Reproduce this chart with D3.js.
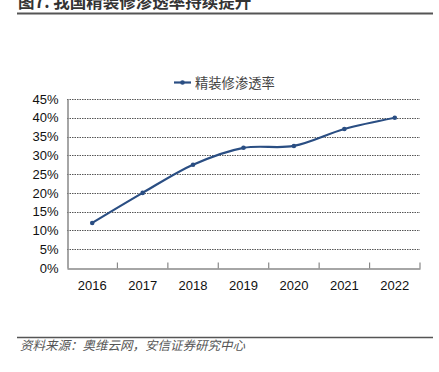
<!DOCTYPE html>
<html><head><meta charset="utf-8">
<script src="https://cdn.jsdelivr.net/npm/d3@7"></script>
<style>body{margin:0;background:#fff;}svg{display:block;}</style>
</head><body>
<script>
const years = ["2016","2017","2018","2019","2020","2021","2022"];
const rates = [12, 20, 27.5, 32, 32.5, 37, 40];
const yTicks = [0,5,10,15,20,25,30,35,40,45];
const seriesName = "精装修渗透率";
const titleText = "图7. 我国精装修渗透率持续提升";
const sourceText = "资料来源：奥维云网，安信证券研究中心";

const W = 439, H = 372;
const svg = d3.select("body").append("svg").attr("width", W).attr("height", H);
const font = "'Liberation Sans', Arial, sans-serif";
const cjk = "'Noto Sans CJK SC', sans-serif";

// title
svg.append("text").attr("x", 18).attr("y", 8).attr("font-family", cjk)
  .attr("font-size", 16.5).attr("font-weight", "bold").attr("fill", "#333").text(titleText);
svg.append("line").attr("x1", 17).attr("x2", 433).attr("y1", 13.5).attr("y2", 13.5)
  .attr("stroke", "#555").attr("stroke-width", 2);

const x = d3.scaleBand().domain(years).range([67, 420]);
const y = d3.scaleLinear().domain([0, 45]).range([268, 99]);

// gridlines
svg.append("g").selectAll("line").data(yTicks.filter(d => d > 0)).join("line")
  .attr("x1", 67).attr("x2", 420).attr("y1", d => Math.round(y(d)) + 0.5).attr("y2", d => Math.round(y(d)) + 0.5)
  .attr("stroke", "#555").attr("stroke-width", 1).attr("stroke-dasharray", "1.5,1");

// y axis
const yAxis = svg.append("g").attr("transform", "translate(67.5,0)")
  .call(d3.axisLeft(y).tickValues(yTicks).tickFormat(d => d + "%").tickSize(0).tickPadding(9));
yAxis.select(".domain").attr("stroke", "#888").attr("stroke-width", 1.5);
yAxis.selectAll("text").attr("font-family", font).attr("font-size", 13).attr("fill", "#111");

// x axis
const xAxis = svg.append("g").attr("transform", "translate(0,268.5)")
  .call(d3.axisBottom(x).tickSize(0).tickPadding(12));
xAxis.select(".domain").attr("stroke", "#888").attr("stroke-width", 1.5);
xAxis.selectAll("text").attr("font-family", font).attr("font-size", 13).attr("fill", "#111");
xAxis.append("g").selectAll("line").data(years).join("line")
  .attr("x1", d => x(d) + x.bandwidth()).attr("x2", d => x(d) + x.bandwidth())
  .attr("y1", 0).attr("y2", -6).attr("stroke", "#888").attr("stroke-width", 1.2);

// line
const color = "#2A4E83";
const line = d3.line().x((d, i) => x(years[i]) + x.bandwidth() / 2).y(d => y(d)).curve(d3.curveCatmullRom.alpha(0.5));
svg.append("path").datum(rates).attr("d", line).attr("fill", "none")
  .attr("stroke", color).attr("stroke-width", 2.2);
svg.append("g").selectAll("circle").data(rates).join("circle")
  .attr("cx", (d, i) => x(years[i]) + x.bandwidth() / 2).attr("cy", d => y(d)).attr("r", 2.3).attr("fill", color);

// legend
svg.append("line").attr("x1", 174).attr("x2", 191).attr("y1", 82.5).attr("y2", 82.5).attr("stroke", color).attr("stroke-width", 2.2);
svg.append("circle").attr("cx", 182.5).attr("cy", 82.5).attr("r", 2.3).attr("fill", color);
svg.append("text").attr("x", 195).attr("y", 87.5).attr("font-family", cjk).attr("font-size", 13.3)
  .attr("fill", "#444").text(seriesName);

// source
svg.append("line").attr("x1", 17).attr("x2", 433).attr("y1", 337.5).attr("y2", 337.5)
  .attr("stroke", "#555").attr("stroke-width", 1.5);
svg.append("text").attr("x", 20).attr("y", 350).attr("font-family", cjk).attr("font-size", 12.5)
  .attr("font-style", "italic").attr("fill", "#555").text(sourceText);
</script>
</body></html>
